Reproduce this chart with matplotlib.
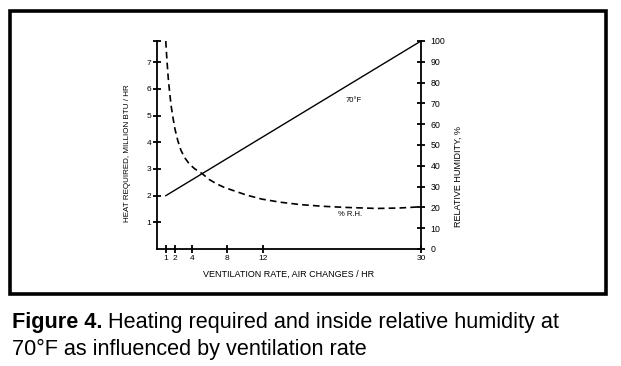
import matplotlib
matplotlib.use("Agg")
import matplotlib.pyplot as plt
from matplotlib.patches import Rectangle
import numpy as np

plt.rcParams['font.family'] = ['Liberation Sans', 'DejaVu Sans']

# Data
x_ticks = [1, 2, 4, 8, 12, 30]
heat_x = [1, 30]
heat_y = [2.0, 7.8]          # million BTU / hr (left axis)
rh_x = [1.0, 1.08, 1.16, 1.28, 1.42, 1.6, 1.8, 2.05, 2.37, 2.72, 3.13, 3.65, 4.27, 5.15, 5.9, 6.74, 7.6, 8.6, 10.2, 11.9, 14.0, 16.4, 19.0, 21.4, 25.0, 27.5, 30.0]
rh_y = [100, 94, 89, 82, 76, 69, 63.5, 57.5, 52, 47.5, 44, 41, 38.6, 36.2, 33.5, 31.4, 29.7, 28.2, 25.9, 24, 22.5, 21.3, 20.5, 20, 19.5, 19.7, 20.3]
left_ticks = [1, 2, 3, 4, 5, 6, 7]
right_ticks = [0, 10, 20, 30, 40, 50, 60, 70, 80, 90, 100]

W, H = 621, 366
fig = plt.figure(figsize=(W / 100, H / 100), dpi=100)

# frame
fig.patches.append(Rectangle((10 / W, 1 - 294 / H), 596 / W, 283 / H,
                             transform=fig.transFigure, fill=False,
                             edgecolor='black', linewidth=2.6))

ax = fig.add_axes([157 / W, 1 - 249 / H, (421 - 157) / W, (249 - 41) / H])
ax.set_xlim(0, 30)
ax.set_ylim(0, 7.8)
for s in ['top', 'right']:
    ax.spines[s].set_visible(False)
ax.spines['left'].set_linewidth(1.3)
ax.spines['bottom'].set_linewidth(1.3)
ax.set_xticks(x_ticks)
ax.set_xticklabels([str(v) for v in x_ticks], fontsize=6)
ax.set_yticks(left_ticks)
ax.set_yticklabels([str(v) for v in left_ticks], fontsize=6)
ax.set_yticks([7.8], minor=True)
ax.tick_params(direction='inout', length=6, width=1.3, pad=1)
ax.tick_params(axis='y', which='minor', direction='inout', length=6, width=1.3)

ax2 = ax.twinx()
ax2.set_ylim(0, 100)
for s in ['top', 'left', 'bottom']:
    ax2.spines[s].set_visible(False)
ax2.spines['right'].set_linewidth(1.3)
ax2.set_yticks(right_ticks)
ax2.set_yticklabels([str(v) for v in right_ticks], fontsize=6.3)
ax2.tick_params(direction='inout', length=6, width=1.3, pad=4)

ax.plot(heat_x, heat_y, color='black', linewidth=1.0)
ax2.plot(rh_x, rh_y, color='black', linewidth=1.2, linestyle=(0, (4, 2.5)))

ax.text(22.3, 5.55, '70°F', fontsize=5.5, ha='center', va='center')
ax2.text(21.9, 16.8, '% R.H.', fontsize=5.5, ha='center', va='center')

ax.set_ylabel('HEAT REQUIRED, MILLION BTU / HR', fontsize=5.8)
ax.yaxis.set_label_coords(-0.10, 0.46)
ax2.set_ylabel('RELATIVE HUMIDITY, %', fontsize=6.5)
ax2.yaxis.set_label_coords(1.125, 0.35)
ax.set_xlabel('VENTILATION RATE, AIR CHANGES / HR', fontsize=6.5, labelpad=6)

# caption
fig.canvas.draw()
r = fig.canvas.get_renderer()
cap_size = 15.6
t1 = fig.text(12 / W, 1 - 328 / H, 'Figure 4.', fontsize=cap_size, fontweight='bold',
              ha='left', va='baseline')
bb = t1.get_window_extent(renderer=r)
fig.text(bb.x1 / W + 6 / W, 1 - 328 / H, 'Heating required and inside relative humidity at',
         fontsize=cap_size, ha='left', va='baseline')
fig.text(12 / W, 1 - 355 / H, '70°F as influenced by ventilation rate',
         fontsize=cap_size, ha='left', va='baseline')

fig.savefig('out.png', dpi=100)
